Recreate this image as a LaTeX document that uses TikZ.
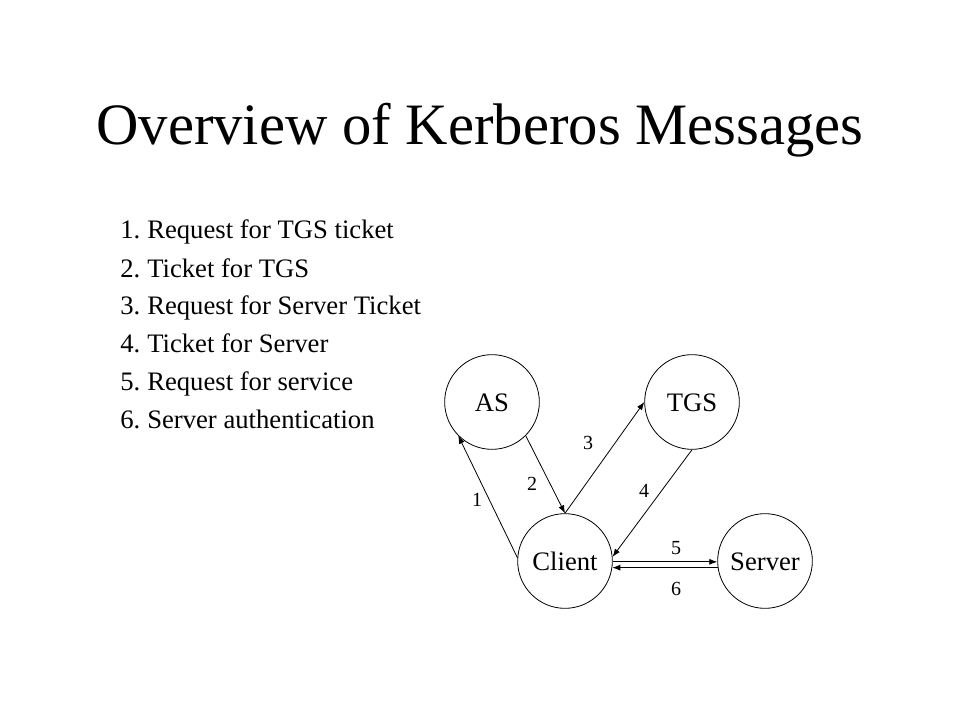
\documentclass[tikz,border=0pt]{standalone}
\usepackage{fontspec}
\setmainfont{Liberation Serif}
\usetikzlibrary{arrows.meta}

\begin{document}
\begin{tikzpicture}[
    x=0.75pt, y=-0.75pt,
    party/.style={draw, circle, line width=0.6pt, minimum size=71pt, inner sep=0pt, text height=13.5pt, text depth=0pt, font=\fontsize{20}{24}\selectfont},
    entry/.style={anchor=base west, inner sep=0pt, font=\fontsize{20}{24}\selectfont},
    lbl/.style={inner sep=1pt, font=\fontsize{15}{17}\selectfont},
    msg/.style={line width=0.6pt, -{Latex[length=6pt,width=4.5pt]}}
]
\useasboundingbox (0,0) rectangle (960,720);
\node[anchor=base, inner sep=0pt, font=\fontsize{44}{52}\selectfont] (title) at (480,145) {Overview of Kerberos Messages};
% message list
\node[entry] (num1) at (120,239) {1.};
\node[entry] (item1) at (147,239) {Request for TGS ticket};
\node[entry] (num2) at (120,277) {2.};
\node[entry] (item2) at (147,277) {Ticket for TGS};
\node[entry] (num3) at (120,315) {3.};
\node[entry] (item3) at (147,315) {Request for Server Ticket};
\node[entry] (num4) at (120,352) {4.};
\node[entry] (item4) at (147,352) {Ticket for Server};
\node[entry] (num5) at (120,390) {5.};
\node[entry] (item5) at (147,390) {Request for service};
\node[entry] (num6) at (120,428) {6.};
\node[entry] (item6) at (147,428) {Server authentication};
% parties
\node[party] (AS) at (492,402) {AS};
\node[party] (TGS) at (692,402) {TGS};
\node[party] (Client) at (565,561) {Client};
\node[party] (Server) at (765,561) {Server};
% messages
\draw[msg] (Client.176) -- (AS.225);
\draw[msg] (AS.-45) -- (Client.north);
\draw[msg] (Client.north) -- (TGS.west);
\draw[msg] (TGS.south) -- (Client.5);
\draw[msg] (Client.-1) -- (Server.181);
\draw[msg] (Server.188) -- (Client.-8);
\node[lbl] (n1) at (477,500) {1};
\node[lbl] (n2) at (532,484) {2};
\node[lbl] (n3) at (588,443) {3};
\node[lbl] (n4) at (644,491) {4};
\node[lbl] (n5) at (676,548) {5};
\node[lbl] (n6) at (676,589) {6};
\end{tikzpicture}
\end{document}
